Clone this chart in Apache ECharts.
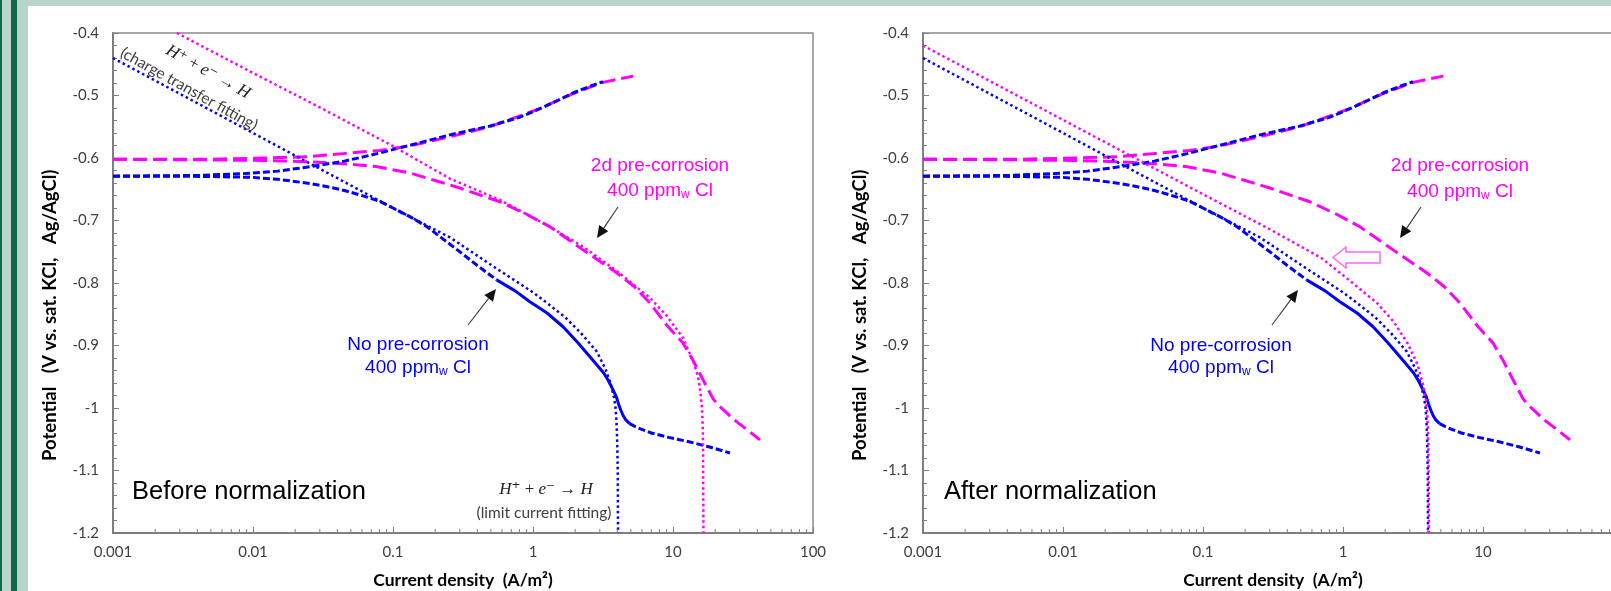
<!DOCTYPE html>
<html><head><meta charset="utf-8">
<script src="https://cdn.jsdelivr.net/npm/echarts@6/dist/echarts.min.js"></script>
<style>html,body{margin:0;padding:0;background:#fff;overflow:hidden}#c{width:1611px;height:591px}</style>
</head><body><div id="c"></div>
<script>
// ---------- data ----------
const xTickLabels = ['0.001', '0.01', '0.1', '1', '10', '100'];
const yTickLabels = ['-1.2', '-1.1', '-1', '-0.9', '-0.8', '-0.7', '-0.6', '-0.5', '-0.4'];
const xMinorTicks = [0.002,0.003,0.004,0.005,0.006,0.007,0.008,0.009,
  0.02,0.03,0.04,0.05,0.06,0.07,0.08,0.09,
  0.2,0.3,0.4,0.5,0.6,0.7,0.8,0.9,
  2,3,4,5,6,7,8,9,
  20,30,40,50,60,70,80,90];

// No pre-corrosion (blue), anodic branch
const noPreAnodic = [[0.001,-0.629],[0.004,-0.628],[0.0085,-0.625],[0.015,-0.621],[0.0255,-0.614],
  [0.045,-0.605],[0.077,-0.593],[0.13,-0.58],[0.255,-0.563],[0.49,-0.549],[0.8,-0.535],
  [1.12,-0.521],[1.5,-0.508],[1.93,-0.496],[2.5,-0.486],[3.16,-0.478]];
// No pre-corrosion (blue), cathodic branch: sparse part, dense part, tail
const noPreCathodicLow = [[0.001,-0.629],[0.003,-0.629],[0.006,-0.63],[0.01,-0.631],[0.015,-0.634],
  [0.019,-0.637],[0.026,-0.641],[0.034,-0.646],[0.045,-0.652],[0.058,-0.659],[0.08,-0.669],
  [0.1,-0.68],[0.135,-0.695],[0.175,-0.71],[0.22,-0.727],[0.3,-0.75],[0.4,-0.772],[0.55,-0.795]];
const noPreCathodicDense = [[0.55,-0.795],[0.75,-0.813],[0.95,-0.83],[1.26,-0.848],[1.64,-0.87],
  [2.1,-0.896],[2.55,-0.918],[3.2,-0.944],[3.45,-0.956],[3.73,-0.971],[3.95,-0.983],[4.1,-0.995],
  [4.25,-1.004],[4.4,-1.012],[4.6,-1.019],[4.9,-1.025]];
const noPreCathodicTail = [[4.9,-1.025],[5.3,-1.029],[5.8,-1.033],[7,-1.04],[9.3,-1.047],[13,-1.054],
  [18,-1.062],[25.5,-1.072]];

// 2d pre-corrosion (magenta)
const pre2dAnodic = [[0.001,-0.602],[0.005,-0.602],[0.012,-0.6],[0.025,-0.598],[0.044,-0.593],
  [0.08,-0.588],[0.13,-0.581],[0.255,-0.566],[0.49,-0.55],[1.12,-0.521],[1.93,-0.497],
  [3.16,-0.479],[4.2,-0.473],[5.2,-0.469]];
const pre2dCathodic = [[0.001,-0.602],[0.005,-0.603],[0.012,-0.604],[0.0255,-0.606],[0.05,-0.61],
  [0.077,-0.614],[0.132,-0.624],[0.2,-0.636],[0.3,-0.648],[0.58,-0.67],[0.9,-0.69],[1.32,-0.71],
  [2.28,-0.747],[3.98,-0.784],[5.3,-0.806],[6.85,-0.832],[9.06,-0.868],[11.8,-0.896],[14,-0.925],
  [16.4,-0.955],[18,-0.972],[19.3,-0.985],[21,-0.995],[23.5,-1.005],[27,-1.018],[34,-1.035],[41.8,-1.051]];

// H+ + e- -> H fits (dotted)
const fitNoPre = [[0.001,-0.44],[0.01,-0.56],[0.1,-0.68],[0.255,-0.727],[0.55,-0.777],[1.0,-0.815],
  [1.26,-0.832],[1.7,-0.855],[2.2,-0.88],[2.86,-0.91],[3.3,-0.938],[3.6,-0.962],[3.8,-0.985],
  [3.88,-0.998],[3.93,-1.014],[3.97,-1.035],[4.0,-1.06],[4.03,-1.1],[4.05,-1.2]];
const fit2dBefore = [[0.00286,-0.4],[0.01,-0.464],[0.03,-0.519],[0.1,-0.581],[0.255,-0.633],
  [0.58,-0.667],[1.32,-0.71],[2.28,-0.742],[3.98,-0.781],[6.85,-0.824],[9.06,-0.853],[11.8,-0.888],
  [14,-0.926],[15,-0.948],[15.5,-0.965],[15.9,-0.985],[16.1,-1.0],[16.3,-1.03],[16.4,-1.06],[16.5,-1.2]];
const fit2dAfter = [[0.001,-0.42],[0.01,-0.539],[0.1,-0.658],[0.3,-0.714],[0.7,-0.76],[1.1,-0.795],
  [1.75,-0.832],[2.3,-0.862],[2.9,-0.897],[3.4,-0.93],[3.75,-0.965],[3.9,-0.985],[3.98,-1.003],
  [4.04,-1.03],[4.07,-1.06],[4.1,-1.12],[4.11,-1.2]];

const panelTitles = ['Before normalization', 'After normalization'];
const xAxisTitle = 'Current density  (A/m²)';
const yAxisTitle = 'Potential   (V vs. sat. KCl,   Ag/AgCl)';

// ---------- styles ----------
const BLUE = '#0000ff', MAG = '#ff00ff', AXIS = '#7f7f7f', TXT = '#404040';
const CAL = 'Lato, "Open Sans", sans-serif';
const ARIAL = '"Liberation Sans", Arial, sans-serif';
const SERIF = '"Liberation Serif", "DejaVu Serif", serif';

const chart = echarts.init(document.getElementById('c'), null, {renderer: 'canvas'});

function line(data, i, color, type, width, z) {
  return {type: 'line', xAxisIndex: i, yAxisIndex: i, data, showSymbol: false, symbol: 'none',
    smooth: false, silent: true, z,
    lineStyle: {color, type, width, cap: 'butt', join: 'round'}};
}

const series = [];
[0, 1].forEach(i => {
  series.push(line(pre2dAnodic, i, MAG, [14, 6], 3, 2));
  series.push(line(pre2dCathodic, i, MAG, [14, 6], 3, 2));
  series.push(line(noPreAnodic, i, BLUE, [7, 3], 3, 3));
  series.push(line(noPreCathodicLow, i, BLUE, [7, 3], 3, 3));
  series.push(line(noPreCathodicDense, i, BLUE, 'solid', 3, 3));
  series.push(line(noPreCathodicTail, i, BLUE, [7, 3], 3, 3));
  series.push(line(fitNoPre, i, BLUE, [2.5, 3], 2.5, 4));
  series.push(line(i === 0 ? fit2dBefore : fit2dAfter, i, MAG, [2.5, 3], 2.5, 4));
  series.push({
    type: 'custom', xAxisIndex: i, yAxisIndex: i, silent: true, z: 5, clip: false,
    data: xMinorTicks.map(v => [v, -1.2]),
    renderItem: (params, api) => {
      const p = api.coord([api.value(0), api.value(1)]);
      return {type: 'line', shape: {x1: p[0], y1: p[1], x2: p[0], y2: p[1] - 4},
        style: {stroke: AXIS, lineWidth: 1}};
    }
  });
});

const grids = [113, 923].map(left => ({left, top: 33, width: 700, height: 500, show: true,
  borderColor: '#8a8a8a', borderWidth: 1.5, backgroundColor: 'transparent',
  containLabel: false, outerBoundsMode: 'none'}));

const xAxes = [0, 1].map(i => ({
  type: 'log', logBase: 10, gridIndex: i, min: 0.001, max: 100,
  name: xAxisTitle, nameLocation: 'middle', nameGap: 38,
  nameTextStyle: {fontFamily: CAL, fontWeight: 'bold', fontSize: 17.5, color: '#000'},
  axisLine: {show: true, onZero: false, lineStyle: {color: AXIS, width: 2}},
  axisTick: {show: true, inside: true, length: 6, lineStyle: {color: AXIS, width: 1}},
  minorTick: {show: false}, splitLine: {show: false}, minorSplitLine: {show: false},
  axisLabel: {show: true, margin: 12, fontFamily: CAL, fontSize: 15, color: TXT,
    showMinLabel: true, showMaxLabel: true,
    formatter: v => xTickLabels[Math.round(Math.log10(v)) + 3] || ''}
}));

const yAxes = [0, 1].map(i => ({
  type: 'value', gridIndex: i, min: -1.2, max: -0.4, interval: 0.1,
  axisLine: {show: true, onZero: false, lineStyle: {color: AXIS, width: 2}},
  axisTick: {show: true, inside: true, length: 6, lineStyle: {color: AXIS, width: 1}},
  minorTick: {show: true, splitNumber: 5, length: 4, lineStyle: {color: AXIS, width: 1}},
  splitLine: {show: false}, minorSplitLine: {show: false},
  axisLabel: {show: true, margin: 14, fontFamily: CAL, fontSize: 15, color: TXT,
    showMinLabel: true, showMaxLabel: true,
    formatter: v => yTickLabels[Math.round((v + 1.2) * 10)] || ''}
}));

// ---------- annotations ----------
function txt(x, y, text, opt) {
  return Object.assign({type: 'text', x, y, rotation: opt.rotation || 0, silent: true, z: 50,
    style: Object.assign({text, x: 0, y: 0, align: opt.align || 'center', verticalAlign: 'middle',
      fill: opt.fill || '#000', fontFamily: opt.fontFamily || ARIAL, fontSize: opt.fontSize || 19,
      fontWeight: opt.fontWeight || 'normal'}, opt.extra || {})});
}
function arrow(x1, y1, x2, y2) {
  const a = Math.atan2(y2 - y1, x2 - x1), L = 12, W = 5.5;
  const bx = x2 - L * Math.cos(a), by = y2 - L * Math.sin(a);
  const px = -Math.sin(a) * W, py = Math.cos(a) * W;
  return [
    {type: 'line', silent: true, z: 50, shape: {x1, y1, x2: bx, y2: by}, style: {stroke: '#404040', lineWidth: 1.2}},
    {type: 'polygon', silent: true, z: 50, shape: {points: [[x2, y2], [bx + px, by + py], [bx - px, by - py]]}, style: {fill: '#111'}}
  ];
}
function pplLabel(cx, cy, color) {
  return txt(cx, cy, '{a|400 ppm}{s|w}{a| Cl}', {fill: color, extra: {rich: {
    a: {fontFamily: ARIAL, fontSize: 19, fill: color},
    s: {fontFamily: ARIAL, fontSize: 12, fill: color, verticalAlign: 'bottom'}}}});
}
const eqRich = {
  i: {fontFamily: SERIF, fontStyle: 'italic', fontSize: 17, fill: '#222'},
  u: {fontFamily: SERIF, fontSize: 17, fill: '#222'}
};
const eqText = '{i|H}{u|⁺ + }{i|e}{u|⁻ → }{i|H}';
const rot = -29 * Math.PI / 180;

const graphic = [
  // page frame bands
  {type: 'rect', silent: true, z: 0, shape: {x: 0, y: 0, width: 1611, height: 6}, style: {fill: '#bad6cc'}},
  {type: 'rect', silent: true, z: 0, shape: {x: 0, y: 0, width: 28, height: 591}, style: {fill: '#bad6cc'}},
  {type: 'rect', silent: true, z: 1, shape: {x: 0, y: 0, width: 2, height: 591}, style: {fill: '#11694a'}},
  {type: 'rect', silent: true, z: 1, shape: {x: 11, y: 0, width: 6, height: 591}, style: {fill: '#11694a'}},
  // y axis titles
  txt(50, 461, yAxisTitle, {rotation: Math.PI / 2, align: 'left', fontFamily: CAL, fontSize: 18.5, fontWeight: 'bold'}),
  txt(860, 461, yAxisTitle, {rotation: Math.PI / 2, align: 'left', fontFamily: CAL, fontSize: 18.5, fontWeight: 'bold'}),
  // panel titles
  txt(132, 492, panelTitles[0], {align: 'left', fontSize: 25.5}),
  txt(944, 492, panelTitles[1], {align: 'left', fontSize: 25.5}),
  // left panel labels
  txt(660, 166, '2d pre-corrosion', {fill: MAG}),
  pplLabel(660, 191, MAG),
  txt(418, 345, 'No pre-corrosion', {fill: BLUE}),
  pplLabel(418, 368, BLUE),
  ...arrow(618, 207, 597, 238),
  ...arrow(468, 325, 496, 289),
  txt(208, 72, eqText, {rotation: rot, extra: {rich: eqRich}}),
  txt(189, 89, '(charge transfer fitting)', {rotation: rot, fontFamily: CAL, fontSize: 15.5, fill: TXT}),
  txt(546, 490, eqText, {extra: {rich: eqRich}}),
  txt(544, 513, '(limit current fitting)', {fontFamily: CAL, fontSize: 15.5, fill: TXT}),
  // right panel labels
  txt(1460, 166, '2d pre-corrosion', {fill: MAG}),
  pplLabel(1460, 192, MAG),
  txt(1221, 346, 'No pre-corrosion', {fill: BLUE}),
  pplLabel(1221, 368, BLUE),
  ...arrow(1421, 207, 1400, 238),
  ...arrow(1272, 325, 1298, 290),
  {type: 'polygon', silent: true, z: 50,
    shape: {points: [[1333, 257.5], [1346, 247], [1346, 252], [1380, 252], [1380, 263], [1346, 263], [1346, 268]]},
    style: {fill: '#ffffff', stroke: '#ff66ff', lineWidth: 1.5}}
];

chart.setOption({
  animation: false,
  backgroundColor: '#ffffff',
  grid: grids,
  xAxis: xAxes,
  yAxis: yAxes,
  series,
  graphic
});
</script></body></html>
